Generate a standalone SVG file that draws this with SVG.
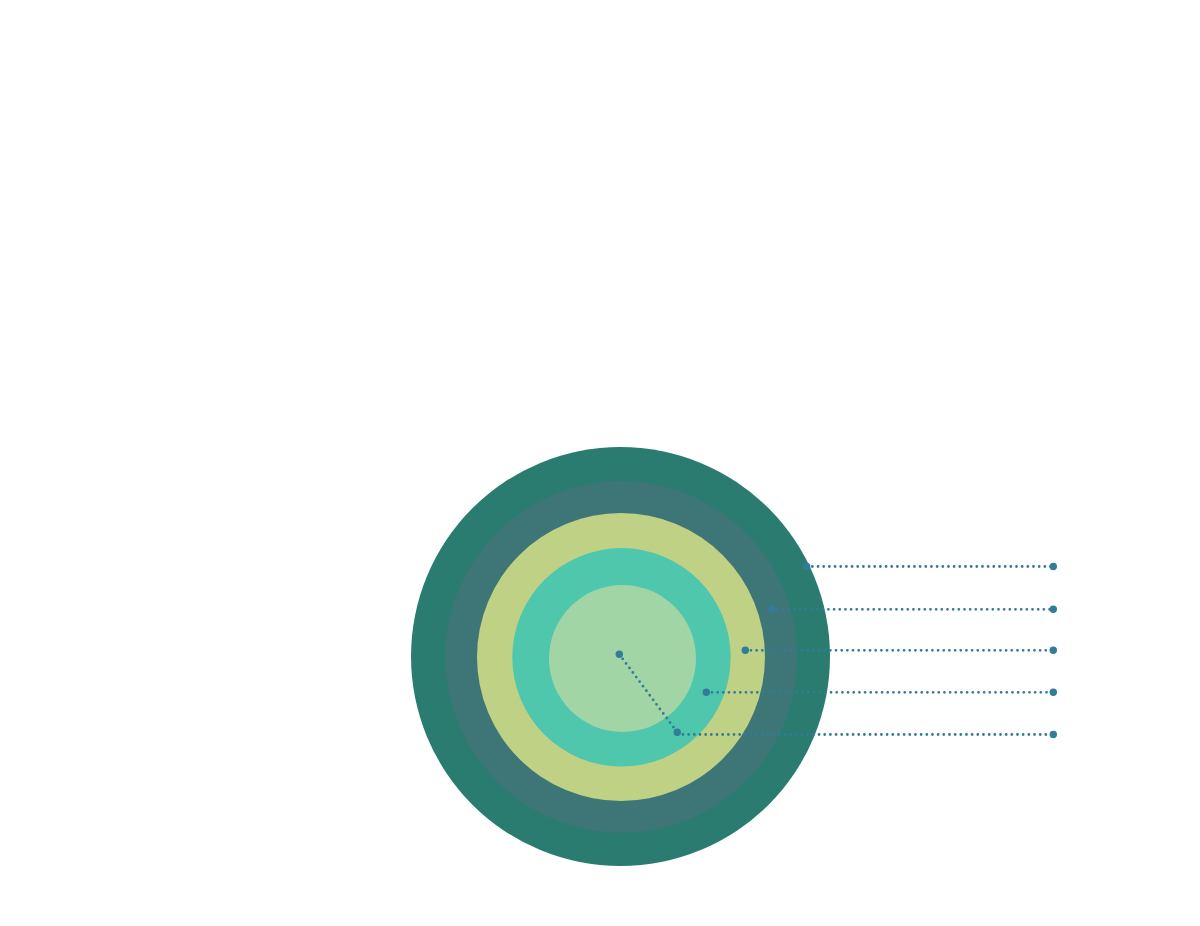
<svg xmlns="http://www.w3.org/2000/svg" width="1200" height="926" viewBox="0 0 1200 926">
<style>
.lead{fill:none;stroke:#337b96;stroke-width:2.8;stroke-linecap:round;stroke-dasharray:0 5.67}
.dot{fill:#337b96}
</style>
<rect width="1200" height="926" fill="#ffffff"/>
<g id="ring1"><circle cx="620.5" cy="656.5" r="209.5" fill="#2b7c70"/></g>
<g id="ring2"><circle cx="621.3" cy="657" r="176" fill="#3e7577"/></g>
<g id="ring3"><circle cx="621" cy="657" r="144" fill="#bfd184"/></g>
<g id="ring4"><circle cx="621.5" cy="657.3" r="109.2" fill="#4fc7ad"/></g>
<g id="ring5"><circle cx="622.5" cy="658.5" r="73.5" fill="#a2d5a6"/></g>
<g id="connectors">
<path class="lead" d="M806.7 566.5 H1053.3"/>
<path class="lead" d="M771.7 609.3 H1053.3"/>
<path class="lead" d="M745.3 650.3 H1053.3"/>
<path class="lead" d="M706.3 692.3 H1053.3"/>
<path class="lead" d="M619.3 654.3 L677.3 732.3"/>
<path class="lead" d="M677.3 734.5 H1053.3"/>
<circle class="dot" cx="806.7" cy="566.5" r="3.7"/>
<circle class="dot" cx="771.7" cy="609.3" r="3.7"/>
<circle class="dot" cx="745.3" cy="650.3" r="3.7"/>
<circle class="dot" cx="706.3" cy="692.3" r="3.7"/>
<circle class="dot" cx="619.3" cy="654.3" r="3.7"/>
<circle class="dot" cx="677.3" cy="732.3" r="3.7"/>
<circle class="dot" cx="1053.3" cy="566.5" r="3.7"/>
<circle class="dot" cx="1053.3" cy="609.3" r="3.7"/>
<circle class="dot" cx="1053.3" cy="650.3" r="3.7"/>
<circle class="dot" cx="1053.3" cy="692.3" r="3.7"/>
<circle class="dot" cx="1053.3" cy="734.5" r="3.7"/>
</g>
</svg>
